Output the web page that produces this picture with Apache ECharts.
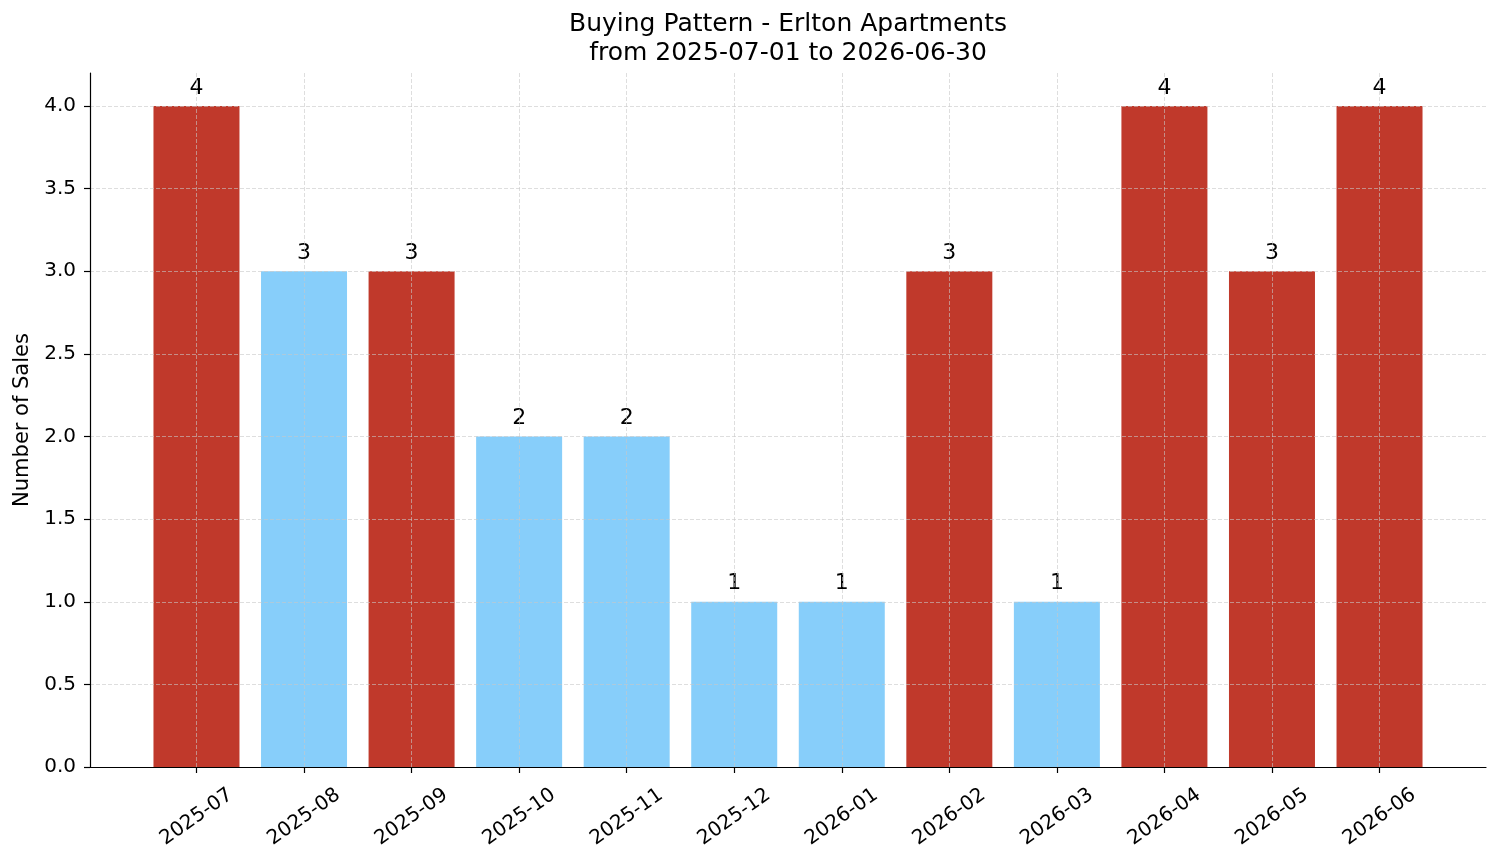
<!DOCTYPE html>
<html>
<head>
<meta charset="utf-8">
<title>Buying Pattern - Erlton Apartments</title>
<script src="https://cdn.jsdelivr.net/npm/echarts@6.0.0/dist/echarts.min.js"></script>
<style>
  html, body { margin: 0; padding: 0; background: #fff; }
  #chart { width: 1501px; height: 863px; }
</style>
</head>
<body>
<div id="chart"></div>
<script>
// monthly sales
var months = ['2025-07', '2025-08', '2025-09', '2025-10', '2025-11', '2025-12',
              '2026-01', '2026-02', '2026-03', '2026-04', '2026-05', '2026-06'];
var sales = [4, 3, 3, 2, 2, 1, 1, 3, 1, 4, 3, 4];
// months drawn in red in the original
var highlighted = [true, false, true, false, false, false, false, true, false, true, true, true];
var yTicks = [0, 0.5, 1, 1.5, 2, 2.5, 3, 3.5, 4];

var RED = '#c0392b', BLUE = '#87cefa';
var FONT = 'DejaVu Sans';

var xTicks = months.map(function (m, i) { return i; });
var barData = sales.map(function (v, i) {
    return { value: [i, v], itemStyle: { color: highlighted[i] ? RED : BLUE } };
});

var chart = echarts.init(document.getElementById('chart'));
var gridStyle = { color: 'rgba(200,200,200,0.75)', width: 0.8, type: [4, 2] };

chart.setOption({
    animation: false,
    title: {
        text: 'Buying Pattern - Erlton Apartments\nfrom 2025-07-01 to 2026-06-30',
        left: 788, top: 10, padding: 0,
        textAlign: 'center',
        textStyle: { fontFamily: FONT, fontSize: 25, fontWeight: 'normal', color: '#000', lineHeight: 29 }
    },
    grid: { left: 90, right: 15, top: 73, bottom: 96, containLabel: false, outerBoundsMode: 'none' },
    xAxis: {
        type: 'value', min: -0.99, max: 11.99, z: 3,
        axisLine: { show: true, onZero: false, lineStyle: { color: '#000', width: 1.2 } },
        axisTick: { show: true, length: 6, inside: false, customValues: xTicks, lineStyle: { color: '#000', width: 1.2 } },
        axisLabel: {
            customValues: xTicks, rotate: 35, align: 'center', verticalAlign: 'middle', margin: 50,
            fontFamily: FONT, fontSize: 20, color: '#000',
            formatter: function (v) { return months[Math.round(v)]; }
        },
        splitLine: { show: true, lineStyle: gridStyle }
    },
    yAxis: {
        type: 'value', min: 0, max: 4.2, z: 3,
        name: 'Number of Sales', nameLocation: 'middle', nameGap: 55,
        nameTextStyle: { fontFamily: FONT, fontSize: 21, color: '#000' },
        axisLine: { show: true, onZero: false, lineStyle: { color: '#000', width: 1.2 } },
        axisTick: { show: true, length: 6, inside: false, customValues: yTicks, lineStyle: { color: '#000', width: 1.2 } },
        axisLabel: {
            customValues: yTicks, margin: 14, fontFamily: FONT, fontSize: 20, color: '#000',
            formatter: function (v) { return v.toFixed(1); }
        },
        splitLine: { show: true, lineStyle: gridStyle }
    },
    series: [{
        type: 'bar',
        barWidth: 86,
        data: barData,
        label: {
            show: true, position: 'top', distance: 7,
            fontFamily: FONT, fontSize: 22, color: '#000',
            formatter: function (p) { return p.value[1]; }
        }
    }]
});
</script>
</body>
</html>
